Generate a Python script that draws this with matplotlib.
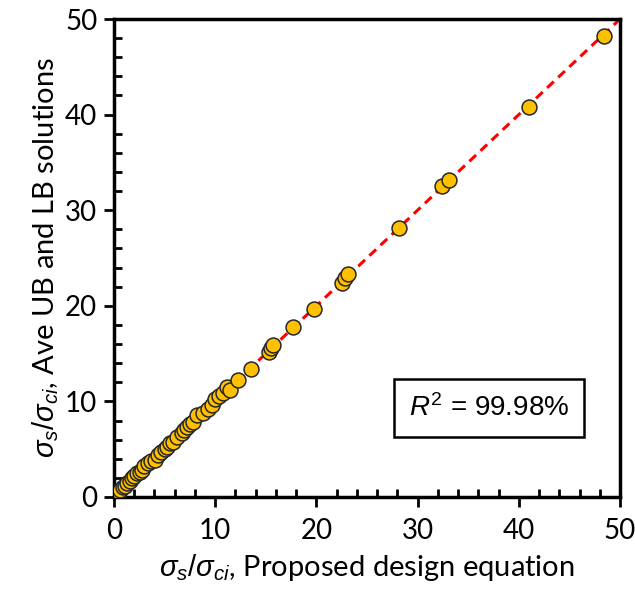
import numpy as np
import matplotlib.pyplot as plt
from matplotlib.ticker import MultipleLocator

plt.rcParams['font.family'] = ['Lato', 'DejaVu Sans']
plt.rcParams['mathtext.fontset'] = 'custom'
plt.rcParams['mathtext.rm'] = 'Liberation Sans'
plt.rcParams['mathtext.it'] = 'Liberation Sans:italic'

# design equation (x) vs average of UB and LB solutions (y)
proposed = [0.1, 0.3, 0.5, 0.6, 0.9, 1.1, 1.3, 1.6, 1.8, 2.0, 2.3, 2.6, 2.8,
            3.0, 3.4, 3.7, 4.1, 4.3, 4.6, 5.0, 5.2, 5.5, 5.8, 6.2, 6.7,
            6.9, 7.2, 7.5, 7.8, 8.2, 8.8, 9.3, 9.7, 10.0, 10.4, 10.8, 11.2,
            11.5, 12.3, 13.5, 15.3, 15.5, 15.7, 17.7, 19.8, 22.5, 22.8,
            23.1, 28.2, 32.4, 33.1, 41.0, 48.4]
numerical = [0.2, 0.4, 0.5, 0.7, 1.0, 1.2, 1.5, 1.7, 2.0, 2.2, 2.5, 2.6, 2.8,
             3.2, 3.6, 3.8, 3.9, 4.4, 4.7, 5.0, 5.2, 5.6, 5.8, 6.3, 6.7,
             7.0, 7.3, 7.6, 7.8, 8.6, 8.8, 9.2, 9.6, 10.2, 10.6, 10.9, 11.5,
             11.2, 12.2, 13.4, 15.2, 15.6, 15.9, 17.8, 19.7, 22.4, 22.9,
             23.3, 28.1, 32.5, 33.2, 40.8, 48.2]
line_x = [0, 50]
r2_text = r'$R^2$ = 99.98%'

fig = plt.figure(figsize=(6.35, 5.94), dpi=100)
ax = fig.add_axes([0.1795, 0.1633, 0.7969, 0.8047])

ax.plot(line_x, line_x, color='#FF0000', ls=(0, (3, 2)), lw=2.2, zorder=2)
ax.scatter(proposed, numerical, s=115, c='#FFC000', edgecolors='#262626',
           linewidths=1.1, zorder=3)

ax.set_xlim(0, 50)
ax.set_ylim(0, 50)
ax.xaxis.set_major_locator(MultipleLocator(10))
ax.yaxis.set_major_locator(MultipleLocator(10))
ax.xaxis.set_minor_locator(MultipleLocator(2))
ax.yaxis.set_minor_locator(MultipleLocator(2))
ax.tick_params(which='major', direction='out', length=7, width=2,
               labelsize=20, pad=5)
ax.tick_params(axis='x', which='major', pad=8)
ax.tick_params(which='minor', direction='in', length=6, width=2)
for sp in ax.spines.values():
    sp.set_linewidth(2.5)

ax.set_xlabel(r'$\sigma_s/\sigma_{ci}$, Proposed design equation',
              fontsize=21, labelpad=6)
ax.set_ylabel(r'$\sigma_s/\sigma_{ci}$, Ave UB and LB solutions',
              fontsize=21, labelpad=3)

ax.text(0.741, 0.186, r2_text, transform=ax.transAxes, ha='center',
        va='center', fontsize=20, family='Liberation Sans',
        bbox=dict(boxstyle='square,pad=0.55', fc='white', ec='black', lw=1.8))

fig.savefig('out.png', dpi=100)
